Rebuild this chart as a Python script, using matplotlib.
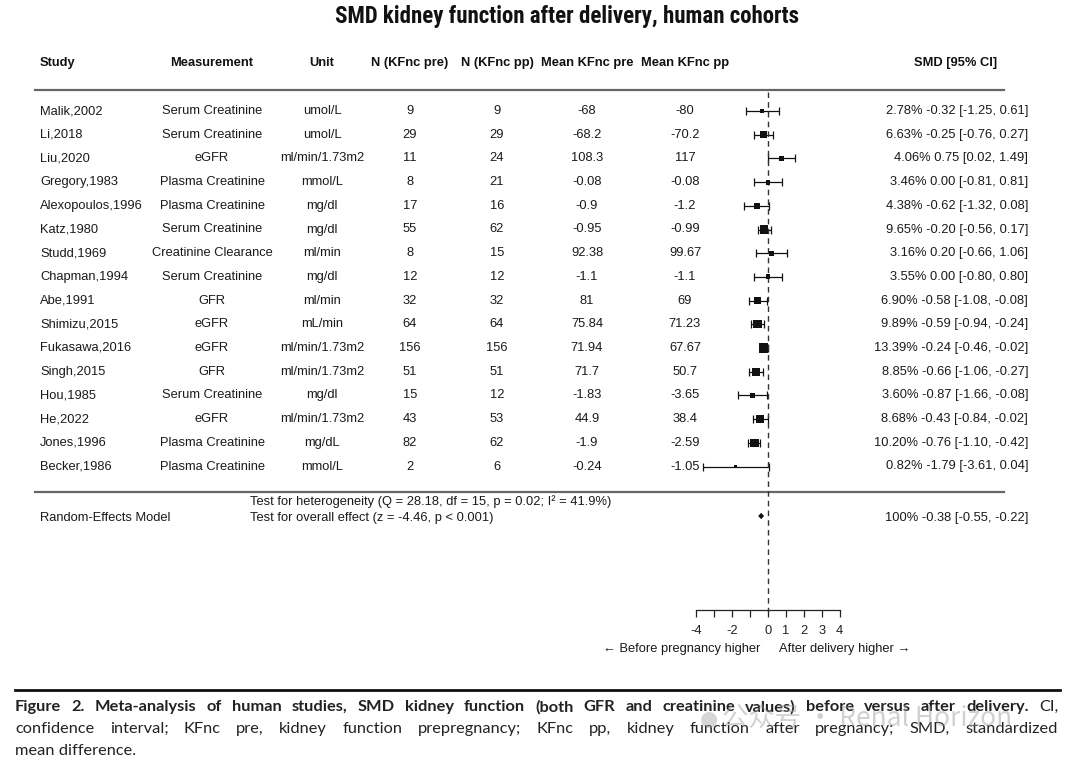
import matplotlib
matplotlib.use("Agg")
import numpy as np
import matplotlib.pyplot as plt
import matplotlib.transforms as mtransforms
from matplotlib import font_manager

# ---- data ----
studies = ["Malik,2002", "Li,2018", "Liu,2020", "Gregory,1983", "Alexopoulos,1996",
           "Katz,1980", "Studd,1969", "Chapman,1994", "Abe,1991", "Shimizu,2015",
           "Fukasawa,2016", "Singh,2015", "Hou,1985", "He,2022", "Jones,1996", "Becker,1986"]
measurement = ["Serum Creatinine", "Serum Creatinine", "eGFR", "Plasma Creatinine",
               "Plasma Creatinine", "Serum Creatinine", "Creatinine Clearance",
               "Serum Creatinine", "GFR", "eGFR", "eGFR", "GFR", "Serum Creatinine",
               "eGFR", "Plasma Creatinine", "Plasma Creatinine"]
units = ["umol/L", "umol/L", "ml/min/1.73m2", "mmol/L", "mg/dl", "mg/dl", "ml/min",
         "mg/dl", "ml/min", "mL/min", "ml/min/1.73m2", "ml/min/1.73m2", "mg/dl",
         "ml/min/1.73m2", "mg/dL", "mmol/L"]
n_pre = [9, 29, 11, 8, 17, 55, 8, 12, 32, 64, 156, 51, 15, 43, 82, 2]
n_pp = [9, 29, 24, 21, 16, 62, 15, 12, 32, 64, 156, 51, 12, 53, 62, 6]
mean_pre = [-68, -68.2, 108.3, -0.08, -0.9, -0.95, 92.38, -1.1, 81, 75.84, 71.94,
            71.7, -1.83, 44.9, -1.9, -0.24]
mean_pp = [-80, -70.2, 117, -0.08, -1.2, -0.99, 99.67, -1.1, 69, 71.23, 67.67,
           50.7, -3.65, 38.4, -2.59, -1.05]
weight = [2.78, 6.63, 4.06, 3.46, 4.38, 9.65, 3.16, 3.55, 6.90, 9.89, 13.39, 8.85,
          3.60, 8.68, 10.20, 0.82]
smd = [-0.32, -0.25, 0.75, 0.00, -0.62, -0.20, 0.20, 0.00, -0.58, -0.59, -0.24,
       -0.66, -0.87, -0.43, -0.76, -1.79]
ci_lo = [-1.25, -0.76, 0.02, -0.81, -1.32, -0.56, -0.66, -0.80, -1.08, -0.94, -0.46,
         -1.06, -1.66, -0.84, -1.10, -3.61]
ci_hi = [0.61, 0.27, 1.49, 0.81, 0.08, 0.17, 1.06, 0.80, -0.08, -0.24, -0.02, -0.27,
         -0.08, -0.02, -0.42, 0.04]
pooled = (-0.38, -0.55, -0.22)
xticks = [-4, -3, -2, -1, 0, 1, 2, 3, 4]
xticklabels = ["-4", "", "-2", "", "0", "1", "2", "3", "4"]

headers = ["Study", "Measurement", "Unit", "N (KFnc pre)", "N (KFnc pp)",
           "Mean KFnc pre", "Mean KFnc pp"]
het_text = "Test for heterogeneity (Q = 28.18, df = 15, p = 0.02; I\u00b2 = 41.9%)"
eff_text = "Test for overall effect (z = -4.46, p < 0.001)"

caption1_bold = ("Figure 2. Meta-analysis of human studies, SMD kidney function "
                 "(both GFR and creatinine values) before versus after delivery.")
caption1_norm = "CI,"
caption2 = ("confidence interval; KFnc pre, kidney function prepregnancy; KFnc pp, "
            "kidney function after pregnancy; SMD, standardized")
caption3 = "mean difference."

# ---- fonts ----
installed = {f.name for f in font_manager.fontManager.ttflist}
BASE = ["Liberation Sans", "DejaVu Sans"]
TITLE_FONT = ["Roboto Condensed"] + BASE if "Roboto Condensed" in installed else BASE
CAP_FONT = ["Lato", "DejaVu Sans"] if "Lato" in installed else BASE
plt.rcParams["font.family"] = BASE

# ---- layout (pixels of the 1080x763 figure) ----
W, H = 1080, 763
PX0, PX_UNIT = 768, 17.9      # x of SMD = 0, pixels per SMD unit
ROW0, ROW_H = 111, 23.7       # centre of first study row, row spacing


def row(py):
    return (py - ROW0) / ROW_H


def fx(px):
    return px / W


fig = plt.figure(figsize=(W / 100, H / 100), dpi=100)
ax = fig.add_axes([0, 0, 1, 1])
ax.set_xlim(-PX0 / PX_UNIT, (W - PX0) / PX_UNIT)
ax.set_ylim(row(H), row(0))
ax.patch.set_visible(False)
tr = mtransforms.blended_transform_factory(fig.transFigure, ax.transData)

FS = 9.3
TXT = "#1a1a1a"
col_x = [40, 212, 322, 410, 497, 587, 685]
col_ha = ["left", "center", "center", "center", "center", "center", "center"]

# title
fig.text(fx(567), 1 - 16 / H, "SMD kidney function after delivery, human cohorts",
         ha="center", va="center", fontsize=16.5 if TITLE_FONT != BASE else 15.5,
         fontweight="bold", family=TITLE_FONT, color="#111")

# headers
for x, ha, h in zip(col_x, col_ha, headers):
    ax.text(fx(x), row(63), h, transform=tr, ha=ha, va="center", fontsize=FS,
            fontweight="bold", color="#111")
ax.text(fx(956), row(63), "SMD [95% CI]", transform=tr, ha="center", va="center",
        fontsize=FS, fontweight="bold", color="#111")
ax.plot([fx(35), fx(1004)], [row(90), row(90)], transform=tr, color="#666", lw=1.6,
        clip_on=False)
ax.plot([fx(35), fx(1004)], [row(492), row(492)], transform=tr, color="#666", lw=1.6,
        clip_on=False)

# table body
rows = np.arange(len(studies))
for i in rows:
    vals = [studies[i], measurement[i], units[i], str(n_pre[i]), str(n_pp[i]),
            f"{mean_pre[i]:g}", f"{mean_pp[i]:g}"]
    for x, ha, v in zip(col_x, col_ha, vals):
        ax.text(fx(x), i, v, transform=tr, ha=ha, va="center", fontsize=FS, color=TXT)
    ax.text(fx(1028), i,
            f"{weight[i]:.2f}% {smd[i]:.2f} [{ci_lo[i]:.2f}, {ci_hi[i]:.2f}]",
            transform=tr, ha="right", va="center", fontsize=FS, color=TXT)

# forest marks
smd_a, lo_a, hi_a = np.array(smd), np.array(ci_lo), np.array(ci_hi)
ax.errorbar(smd_a, rows, xerr=[smd_a - lo_a, hi_a - smd_a], fmt="none", ecolor="#111",
            elinewidth=0.9, capsize=3.0, capthick=0.9)
side = 9.5 * np.sqrt(np.array(weight) / max(weight)) * 0.72
ax.scatter(smd_a, rows, marker="s", s=np.maximum(side, 2.2) ** 2, color="#111", zorder=3,
           linewidths=0)

# pooled estimate
est, plo, phi = pooled
yd, hd = row(516), 3.2 / ROW_H
ax.fill([plo, est, phi, est], [yd, yd - hd, yd, yd + hd], color="#111", lw=0)
ax.text(fx(40), row(518), "Random-Effects Model", transform=tr, ha="left", va="center",
        fontsize=FS, color=TXT)
ax.text(fx(250), row(502), het_text, transform=tr, ha="left", va="center", fontsize=FS,
        color=TXT)
ax.text(fx(250), row(518), eff_text, transform=tr, ha="left", va="center", fontsize=FS,
        color=TXT)
ax.text(fx(1028), row(518), f"100% {est:.2f} [{plo:.2f}, {phi:.2f}]", transform=tr,
        ha="right", va="center", fontsize=FS, color=TXT)

# zero line
ax.vlines(0, row(92), row(612), colors="#333", linestyles=(0, (4, 3)), lw=1)

# bottom axis
for s in ["top", "left", "right"]:
    ax.spines[s].set_visible(False)
ax.spines["bottom"].set_position(("data", row(610)))
ax.spines["bottom"].set_bounds(-4, 4)
ax.spines["bottom"].set_linewidth(0.9)
ax.spines["bottom"].set_color("#222")
ax.set_xticks(xticks)
ax.set_xticklabels(xticklabels)
ax.tick_params(axis="x", direction="out", length=5, width=0.9, pad=6, labelsize=FS,
               colors="#222")
ax.yaxis.set_visible(False)

ax.text(fx(760), row(649), "\u2190 Before pregnancy higher", transform=tr, ha="right",
        va="center", fontsize=FS, color=TXT)
ax.text(fx(779), row(649), "After delivery higher \u2192", transform=tr, ha="left",
        va="center", fontsize=FS, color=TXT)

# ---- caption ----
fig.add_artist(plt.Line2D([fx(15), fx(1060)], [1 - 690 / H, 1 - 690 / H], color="#111",
                          lw=2))
renderer = fig.canvas.get_renderer()


def justified(tokens, x0, x1, py, size):
    texts = [fig.text(0, 1 - py / H, w, fontsize=size, fontweight=wt, va="center",
                      family=CAP_FONT, color="#222") for w, wt in tokens]
    while True:
        widths = [t.get_window_extent(renderer).width for t in texts]
        gap = (x1 - x0 - sum(widths)) / (len(texts) - 1)
        if gap >= 3.5 or size < 7:
            break
        size -= 0.2
        for t in texts:
            t.set_fontsize(size)
    x = x0
    for t, w in zip(texts, widths):
        t.set_x(x / W)
        x += w + gap
    return size


CAP_FS = 11.8
tok1 = [(w, "bold") for w in caption1_bold.split()] + [(w, "normal") for w in caption1_norm.split()]
fs1 = justified(tok1, 15, 1058, 707, CAP_FS)
justified([(w, "normal") for w in caption2.split()], 15, 1058, 729, fs1)
fig.text(fx(15), 1 - 751 / H, caption3, fontsize=fs1, va="center", family=CAP_FONT,
         color="#222")

# watermark
fig.text(fx(700), 1 - 719 / H, "\u25cf", fontsize=15, ha="left", va="center",
         color="#9a9a9a", alpha=0.4, family=["DejaVu Sans"])
fig.text(fx(722), 1 - 718 / H, "\u516c\u4f17\u53f7 \u00b7 Renal Horizon", fontsize=19,
         va="center", color="#9a9a9a", alpha=0.45, fontweight="light",
         family=["Noto Sans CJK SC", "DejaVu Sans"])

fig.savefig("out.png", dpi=100)
